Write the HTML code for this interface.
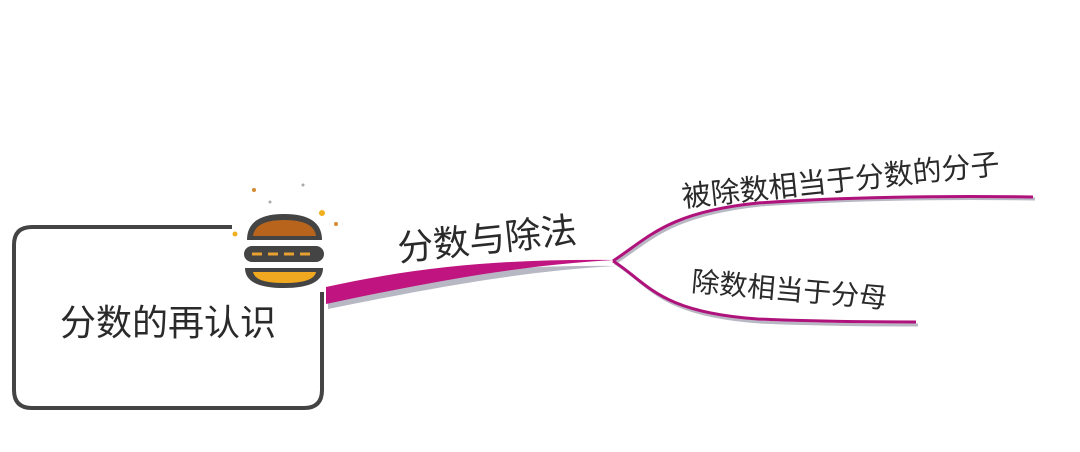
<!DOCTYPE html>
<html><head><meta charset="utf-8"><style>
html,body{margin:0;padding:0;background:#fff;}
body{width:1080px;height:452px;position:relative;overflow:hidden;font-family:"Liberation Sans","Noto Sans CJK SC",sans-serif;color:#2a2a2a;}
.t{position:absolute;white-space:nowrap;transform-origin:left bottom;}
</style></head><body>
<svg width="1080" height="452" style="position:absolute;left:0;top:0">
<path d="M232,227 H32 Q14,227 14,245 V390 Q14,408 32,408 H304 Q322,408 322,390 V292" fill="none" stroke="#444" stroke-width="4"/>
<path d="M326,291 C430,268 520,262 615,263 C520,268 430,285 326,306 Z" fill="#b8b8c4" transform="translate(2,3)"/>
<path d="M326,287 C430,264 520,259 615,260 C520,265 430,282 326,304 Z" fill="#c01480"/>
<path d="M615,263 C650,240 670,215 760,205 C860,198 960,198 1035,199" fill="none" stroke="#b8b8c4" stroke-width="3"/>
<path d="M615,263 C650,285 660,315 760,322 C830,325 880,325 918,325" fill="none" stroke="#b8b8c4" stroke-width="3"/>
<path d="M613,261 C648,238 668,212 758,203 C858,196 958,196 1033,197" fill="none" stroke="#b0127c" stroke-width="3"/>
<path d="M613,261 C648,283 658,312 758,319 C828,322 878,322 916,322" fill="none" stroke="#b0127c" stroke-width="3"/>
<path d="M247,240 Q247,214 284,214 Q322,214 322,240 Z" fill="#444"/>
<path d="M253,236 Q255,220 284,220 Q314,220 316,236 Z" fill="#b8641c"/>
<rect x="244" y="246" width="80" height="16" rx="8" fill="#444"/>
<path d="M252,254 h10 M268,254 h10 M284,254 h10 M300,254 h10" stroke="#e8a030" stroke-width="3"/>
<path d="M245,268 H323 Q323,288 284,288 Q245,288 245,268 Z" fill="#444"/>
<path d="M253,272 H316 Q314,283 284,283 Q255,283 253,272 Z" fill="#f0a820"/>
<circle cx="254" cy="190" r="2" fill="#d48a30"/><circle cx="322" cy="213" r="3" fill="#f0b020"/>
<circle cx="336" cy="224" r="2" fill="#d48a30"/><circle cx="235" cy="234" r="2.5" fill="#f0b020"/>
<circle cx="303" cy="185" r="1.5" fill="#aaa"/><circle cx="270" cy="202" r="1.5" fill="#aaa"/>
</svg>
<div class="t" style="left:60px;top:294px;font-size:36px;">分数的再认识</div>
<div class="t" style="left:400px;top:220px;font-size:36px;transform:rotate(-6deg);">分数与除法</div>
<div class="t" style="left:684px;top:174px;font-size:29px;transform:rotate(-6deg);">被除数相当于分数的分子</div>
<div class="t" style="left:690px;top:260px;font-size:28px;transform:rotate(5deg);">除数相当于分母</div>
</body></html>
